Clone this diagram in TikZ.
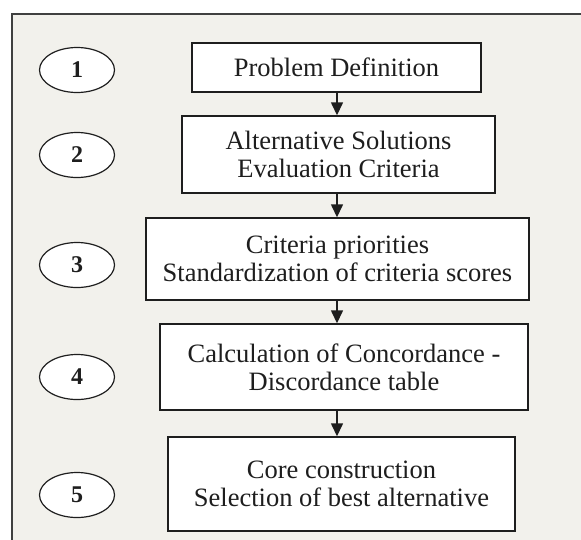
\documentclass[tikz,border=0pt]{standalone}
\usepackage{fontspec}
\setmainfont{Liberation Serif}
\usetikzlibrary{arrows.meta,shapes.geometric}
\definecolor{panel}{HTML}{F2F1EC}
\definecolor{ink}{HTML}{1E1E1E}
\tikzset{
  x=1pt, y=-1pt,
  stepbox/.style={draw=ink, line width=1.4pt, fill=white, inner sep=0pt,
    align=center, font=\fontsize{26.5}{28}\selectfont, text=ink},
  stepnum/.style={draw=ink, line width=1.2pt, fill=white, ellipse, inner sep=0pt,
    minimum width=75pt, minimum height=45pt, font=\fontsize{24}{26}\selectfont\bfseries, text=ink},
  flow/.style={draw=ink, line width=1.4pt, -{Triangle[length=13pt,width=12pt]}},
}
\begin{document}
\begin{tikzpicture}
\useasboundingbox (0,0) rectangle (581,539);
\fill[white] (0,0) rectangle (581,539);
\filldraw[fill=panel, draw=ink!85, line width=1.6pt] (12,14) rectangle (600,560);

\node[stepbox, minimum width=289pt, minimum height=49pt] (b1) at (336.5,67.5) {Problem Definition};
\node[stepbox, minimum width=313pt, minimum height=77pt] (b2) at (338.5,154.5) {Alternative Solutions\\Evaluation Criteria};
\node[stepbox, minimum width=383pt, minimum height=82pt] (b3) at (337.5,259) {Criteria priorities\\Standardization of criteria scores};
\node[stepbox, minimum width=368pt, minimum height=86pt] (b4) at (344,367) {Calculation of Concordance -\\Discordance table};
\node[stepbox, minimum width=347pt, minimum height=94pt] (b5) at (341.5,484) {Core construction\\Selection of best alternative};

\node[stepnum] (n1) at (77,70) {1};
\node[stepnum] (n2) at (77,155) {2};
\node[stepnum] (n3) at (77,265) {3};
\node[stepnum] (n4) at (77,377) {4};
\node[stepnum] (n5) at (77,495) {5};

\draw[flow] (b1.south -| 337,0) -- (b2.north -| 337,0);
\draw[flow] (b2.south -| 337,0) -- (b3.north -| 337,0);
\draw[flow] (b3.south -| 337,0) -- (b4.north -| 337,0);
\draw[flow] (b4.south -| 337,0) -- (b5.north -| 337,0);
\end{tikzpicture}
\end{document}
